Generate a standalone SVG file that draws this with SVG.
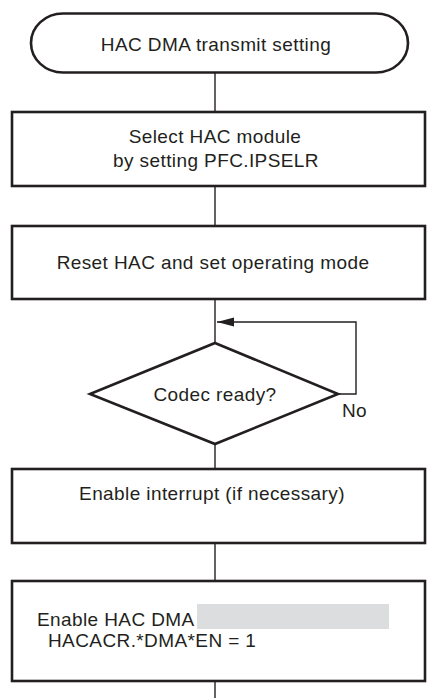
<svg xmlns="http://www.w3.org/2000/svg" width="448" height="698" viewBox="0 0 448 698">
  <style>
    .shape { fill: #ffffff; stroke: #231f20; stroke-width: 2.6; }
    .conn { fill: none; stroke: #231f20; stroke-width: 1.4; }
    .txt { font-family: "Liberation Sans", Arial, sans-serif; font-size: 19px; letter-spacing: 0.4px; fill: #231f20; }
    .mid { text-anchor: middle; }
  </style>
  <defs>
    <marker id="arrow" markerUnits="userSpaceOnUse" markerWidth="18" markerHeight="10" refX="17" refY="4.5" orient="auto">
      <polygon points="0,0 17,4.5 0,9" fill="#231f20"/>
    </marker>
  </defs>
  <rect width="448" height="698" fill="#ffffff"/>
  <g id="connectors">
    <line class="conn" x1="215" y1="73" x2="215" y2="112"/>
    <line class="conn" x1="215" y1="186" x2="215" y2="226"/>
    <line class="conn" x1="215" y1="299" x2="215" y2="343"/>
    <line class="conn" x1="215" y1="444" x2="215" y2="469"/>
    <line class="conn" x1="215" y1="543" x2="215" y2="581"/>
    <line class="conn" x1="215" y1="681" x2="215" y2="698"/>
    <polyline class="conn" points="338,394 356,394 356,322 217,322" marker-end="url(#arrow)"/>
    <text class="txt" x="342" y="417">No</text>
  </g>
  <g id="start">
    <path class="shape" d="M63,13.5 H376 A32,29.5 0 0 1 376,72.5 H63 A32,29.5 0 0 1 63,13.5 Z"/>
    <text class="txt mid" x="216" y="51">HAC DMA transmit setting</text>
  </g>
  <g id="select">
    <rect class="shape" x="12" y="112" width="413" height="74"/>
    <text class="txt mid" x="215" y="143">Select HAC module</text>
    <text class="txt mid" x="216" y="167">by setting PFC.IPSELR</text>
  </g>
  <g id="reset">
    <rect class="shape" x="12" y="226" width="413" height="73"/>
    <text class="txt mid" x="213" y="269">Reset HAC and set operating mode</text>
  </g>
  <g id="codec">
    <polygon class="shape" points="215,343 338,394 215,444 90,394"/>
    <text class="txt mid" x="215" y="401">Codec ready?</text>
  </g>
  <g id="interrupt">
    <rect class="shape" x="12" y="469" width="413" height="74"/>
    <text class="txt mid" x="212" y="500">Enable interrupt (if necessary)</text>
  </g>
  <g id="dma">
    <rect class="shape" x="12" y="581" width="413" height="100"/>
    <rect x="197" y="604" width="192" height="25" fill="#dcdddf"/>
    <text class="txt" x="37" y="626">Enable HAC DMA</text>
    <text class="txt" x="48" y="647">HACACR.*DMA*EN = 1</text>
  </g>
</svg>
